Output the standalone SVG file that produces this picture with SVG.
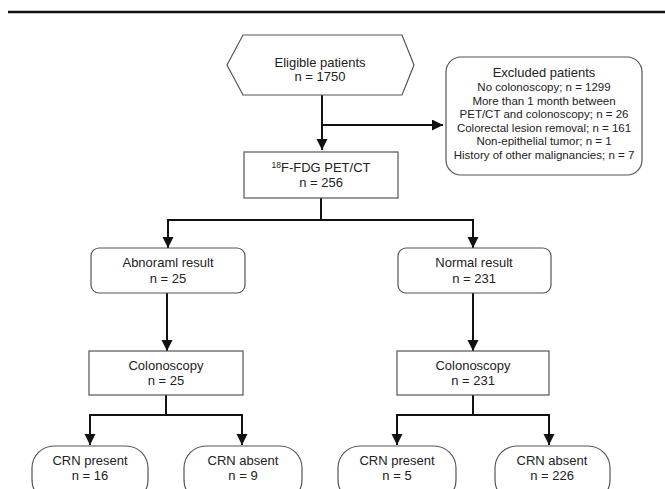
<svg xmlns="http://www.w3.org/2000/svg" width="665" height="489" viewBox="0 0 665 489">
<style>
.box{fill:#fff;stroke:#555;stroke-width:1.2}
.t{font-family:"Liberation Sans",Arial,sans-serif;font-size:13px;fill:#222;text-anchor:middle}
.s{font-size:11.5px}
.c{fill:none;stroke:#111;stroke-width:2}
</style>
<defs>
<marker id="ah" markerUnits="userSpaceOnUse" markerWidth="12" markerHeight="12" refX="11" refY="5.5" orient="auto">
<path d="M0,0 L11,5.5 L0,11 Z" fill="#111"/>
</marker>
</defs>
<rect width="665" height="489" fill="#fff"/>
<line x1="8" y1="12" x2="665" y2="12" stroke="#111" stroke-width="2.5"/>
<g id="connectors">
<path class="c" d="M322,95 V150" marker-end="url(#ah)"/>
<path class="c" d="M322,125 H443" marker-end="url(#ah)"/>
<path class="c" d="M321,198 V220 M168,220 H473"/>
<path class="c" d="M168,219 V248" marker-end="url(#ah)"/>
<path class="c" d="M473,219 V248" marker-end="url(#ah)"/>
<path class="c" d="M167,293 V351" marker-end="url(#ah)"/>
<path class="c" d="M473,293 V351" marker-end="url(#ah)"/>
<path class="c" d="M166,395 V415 M90,415 H243"/>
<path class="c" d="M90,414 V445" marker-end="url(#ah)"/>
<path class="c" d="M242,414 V445" marker-end="url(#ah)"/>
<path class="c" d="M473,395 V415 M397,415 H550"/>
<path class="c" d="M397,414 V445" marker-end="url(#ah)"/>
<path class="c" d="M549,414 V445" marker-end="url(#ah)"/>
</g>
<g id="eligible">
<polygon class="box" points="243,35 402,35 414,65 402,95 243,95 227,65"/>
<text class="t" x="320" y="67">Eligible patients</text>
<text class="t" x="320" y="81">n = 1750</text>
</g>
<g id="excluded">
<rect class="box" x="446" y="57" width="196" height="118" rx="15"/>
<text class="t" x="544" y="77">Excluded patients</text>
<text class="t s" x="544" y="91">No colonoscopy; n = 1299</text>
<text class="t s" x="544" y="104.5">More than 1 month between</text>
<text class="t s" x="544" y="118">PET/CT and colonoscopy; n = 26</text>
<text class="t s" x="544" y="131.5">Colorectal lesion removal; n = 161</text>
<text class="t s" x="544" y="145">Non-epithelial tumor; n = 1</text>
<text class="t s" x="544" y="158.5">History of other malignancies;  n = 7</text>
</g>
<g id="petct">
<rect class="box" x="244" y="152" width="154" height="46"/>
<text class="t" x="321" y="172"><tspan font-size="8.5" dy="-4">18</tspan><tspan dy="4">F-FDG PET/CT</tspan></text>
<text class="t" x="321" y="187">n = 256</text>
</g>
<g id="abnormal">
<rect class="box" x="91" y="248" width="154" height="45" rx="8"/>
<text class="t" x="168" y="267">Abnoraml result</text>
<text class="t" x="168" y="283">n = 25</text>
</g>
<g id="normal">
<rect class="box" x="398" y="248" width="153" height="45" rx="8"/>
<text class="t" x="474" y="267">Normal result</text>
<text class="t" x="474" y="283">n = 231</text>
</g>
<g id="colon-left">
<rect class="box" x="89" y="351" width="154" height="44"/>
<text class="t" x="166" y="370">Colonoscopy</text>
<text class="t" x="166" y="385">n = 25</text>
</g>
<g id="colon-right">
<rect class="box" x="397" y="351" width="152" height="44"/>
<text class="t" x="473" y="370">Colonoscopy</text>
<text class="t" x="473" y="385">n = 231</text>
</g>
<g id="crn-present-left">
<rect class="box" x="32" y="446" width="116" height="56" rx="22"/>
<text class="t" x="90" y="465">CRN present</text>
<text class="t" x="90" y="480">n = 16</text>
</g>
<g id="crn-absent-left">
<rect class="box" x="184" y="446" width="118" height="56" rx="22"/>
<text class="t" x="243" y="465">CRN absent</text>
<text class="t" x="243" y="480">n = 9</text>
</g>
<g id="crn-present-right">
<rect class="box" x="338" y="446" width="118" height="56" rx="22"/>
<text class="t" x="397" y="465">CRN present</text>
<text class="t" x="397" y="480">n = 5</text>
</g>
<g id="crn-absent-right">
<rect class="box" x="495" y="446" width="115" height="56" rx="22"/>
<text class="t" x="552" y="465">CRN absent</text>
<text class="t" x="552" y="480">n = 226</text>
</g>
</svg>
